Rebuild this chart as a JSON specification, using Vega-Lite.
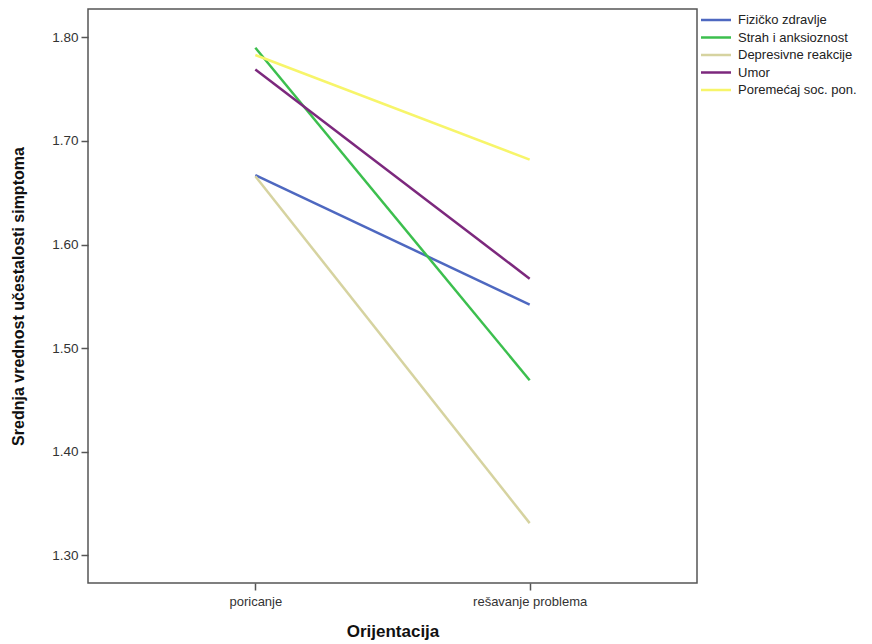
{
  "$schema": "https://vega.github.io/schema/vega-lite/v6.json",
  "autosize": "none",
  "width": 609,
  "height": 574,
  "padding": {"left": 88, "top": 9, "right": 175, "bottom": 61},
  "background": "white",
  "config": {
    "view": {"stroke": "#555555", "strokeWidth": 1.5},
    "font": "Liberation Sans",
    "axis": {"grid": false, "domain": false, "tickColor": "#555555", "tickSize": 7, "tickWidth": 1.5, "labelColor": "#333333", "labelFontSize": 13.5, "titleColor": "#111111", "titleFontWeight": "bold"}
  },
  "data": {
    "values": [
      {"orijentacija": "poricanje", "simptom": "Fizičko zdravlje", "value": 1.667},
      {"orijentacija": "rešavanje problema", "simptom": "Fizičko zdravlje", "value": 1.542},
      {"orijentacija": "poricanje", "simptom": "Strah i anksioznost", "value": 1.790},
      {"orijentacija": "rešavanje problema", "simptom": "Strah i anksioznost", "value": 1.469},
      {"orijentacija": "poricanje", "simptom": "Depresivne reakcije", "value": 1.666},
      {"orijentacija": "rešavanje problema", "simptom": "Depresivne reakcije", "value": 1.331},
      {"orijentacija": "poricanje", "simptom": "Umor", "value": 1.769},
      {"orijentacija": "rešavanje problema", "simptom": "Umor", "value": 1.567},
      {"orijentacija": "poricanje", "simptom": "Poremećaj soc. pon.", "value": 1.783},
      {"orijentacija": "rešavanje problema", "simptom": "Poremećaj soc. pon.", "value": 1.682}
    ]
  },
  "mark": {"type": "line", "strokeWidth": 2.5, "clip": true},
  "encoding": {
    "x": {
      "field": "orijentacija", "type": "nominal",
      "sort": ["poricanje", "rešavanje problema"],
      "scale": {"type": "point", "padding": 0.61},
      "axis": {"title": "Orijentacija", "labelAngle": 0, "labelPadding": 5, "titleFontSize": 17, "titlePadding": 15, "labelFontSize": 13}
    },
    "y": {
      "field": "value", "type": "quantitative",
      "scale": {"domain": [1.2732, 1.8274], "nice": false, "zero": false},
      "axis": {"title": "Srednja vrednost učestalosti simptoma", "values": [1.3, 1.4, 1.5, 1.6, 1.7, 1.8], "format": ".2f", "titleFontSize": 16, "titlePadding": 25, "labelPadding": 3}
    },
    "color": {
      "field": "simptom", "type": "nominal",
      "scale": {
        "domain": ["Fizičko zdravlje", "Strah i anksioznost", "Depresivne reakcije", "Umor", "Poremećaj soc. pon."],
        "range": ["#4E68C0", "#3CBF4E", "#D6D3A0", "#7C287D", "#F7F56A"]
      },
      "legend": {
        "title": null, "orient": "none", "legendX": 619, "legendY": 2,
        "symbolType": "M-2,0L2,0", "symbolSize": 225, "symbolStrokeWidth": 2.5,
        "labelFontSize": 13, "labelColor": "#222222", "rowPadding": 1.5, "labelOffset": 13
      }
    }
  }
}
